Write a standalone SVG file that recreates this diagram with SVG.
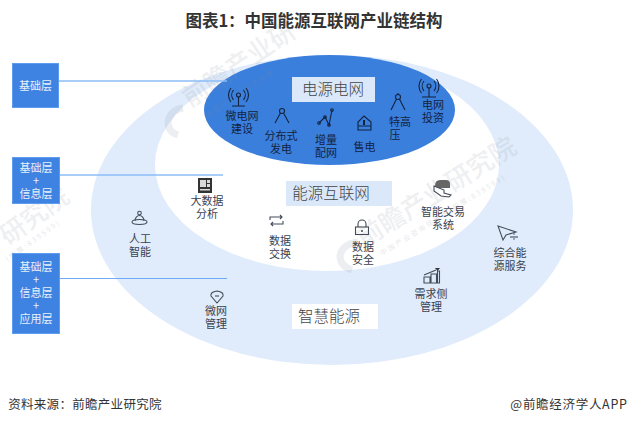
<svg xmlns="http://www.w3.org/2000/svg" width="628" height="425" viewBox="0 0 628 425">
<style>
text{font-family:"Noto Sans CJK SC","Liberation Sans",sans-serif;text-anchor:middle}
.t{font-size:11px;fill:#3a4250}
.d{font-size:11px;fill:#13233f}
.w{font-size:11px;fill:#e8f0fb}
.box{fill:#3f83e2;stroke:#5e9cf0;stroke-width:1}
.big{font-size:15.500px;font-weight:300;fill:#444}
.i{fill:none;stroke:#444c58;stroke-width:1.1}
.k{fill:none;stroke:#13233f;stroke-width:1.1}
.wm{font-size:26px;font-weight:500;fill:#7f8a99;opacity:.13;text-anchor:start}
.ws{font-size:7px;fill:#7f8a99;opacity:.2;letter-spacing:2px;text-anchor:start}
.logo{fill:none;stroke:#7f8a99;stroke-width:7;opacity:.14}
</style>
<rect width="628" height="425" fill="#fff"/>
<text x="314" y="26.500" style="font-size:16.500px;font-weight:700;fill:#333">图表1：中国能源互联网产业链结构</text>
<g id="rings">
<ellipse cx="332" cy="210" rx="241" ry="155" fill="#e0ecfb"/>
<ellipse cx="327" cy="165" rx="172" ry="106" fill="#fff"/>
</g>
<g id="power-grid">
<ellipse cx="329.500" cy="110" rx="125.500" ry="55" fill="#3b7fdc"/>
<rect x="292" y="77" width="83" height="25" fill="#dbe8f9"/>
<text class="big" x="333" y="95">电源电网</text>
</g>
<g id="watermarks">
<path class="logo" d="M183 108Q170 110 168 122Q168 132 178 135"/>
<path class="logo" d="M358 242Q342 244 340 256Q340 266 352 270"/>
<text class="wm" transform="translate(190 108) rotate(-34)">前瞻产业研</text>
<text class="wm" transform="translate(364 248) rotate(-32)">前瞻产业研究院</text>
<text class="wm" transform="translate(8 246) rotate(-36)">研究院</text>
<text class="ws" transform="translate(208 118) rotate(-34)">中国产业咨询领导者</text>
<text class="ws" transform="translate(382 256) rotate(-32)">中国产业咨询领导者(股票:839599)</text>
<text class="ws" transform="translate(8 262) rotate(-36)">(股票:839599)</text>
</g>
<g id="connectors" fill="none">
<path d="M59 81H227" stroke="#8bbcf7" stroke-width="1.600"/>
<path d="M60 175H223" stroke="#8bbcf7" stroke-width="1.600"/>
<path d="M60 278.500H227" stroke="#6eaaf5" stroke-width="1.100"/>
</g>
<g id="layer-1"><rect class="box" x="12.500" y="63.500" width="46" height="44"/><text class="w" x="35.500" y="90">基础层</text></g>
<g id="layer-2"><rect class="box" x="12.500" y="157.500" width="47" height="46"/><text class="w" x="36" y="172">基础层</text><text class="w" x="36" y="185">+</text><text class="w" x="36" y="198">信息层</text></g>
<g id="layer-3"><rect class="box" x="12.500" y="253.500" width="47" height="80"/><text class="w" x="36" y="271">基础层</text><text class="w" x="36" y="284">+</text><text class="w" x="36" y="297">信息层</text><text class="w" x="36" y="310">+</text><text class="w" x="36" y="323">应用层</text></g>
<g id="energy-internet"><rect x="286" y="181" width="106" height="25" fill="#dbe8f9"/><text class="big" x="331" y="199">能源互联网</text></g>
<g id="smart-energy"><rect x="292" y="304" width="86" height="25" fill="#fff"/><text class="big" x="329" y="322">智慧能源</text></g>
<g id="n-micro-build"><circle class="k" cx="238.500" cy="95" r="2"/><path class="k" d="M238.500 97V106M232 106H245M233.500 90a8 8 0 0 0 0 10M243.500 90a8 8 0 0 1 0 10M231 88a11 11 0 0 0 0 14M246 88a11 11 0 0 1 0 14"/><text class="d" x="242" y="120">微电网</text><text class="d" x="242" y="133">建设</text></g>
<g id="n-distributed"><circle class="k" cx="282" cy="111" r="2.500"/><path class="k" d="M280.500 113L275 123M283.500 113L289 123"/><text class="d" x="281" y="140">分布式</text><text class="d" x="281" y="153">发电</text></g>
<g id="n-increment"><path class="k" d="M319 123L325 117L329 125L332 110"/><circle class="k" cx="319" cy="123" r="1.300"/><circle class="k" cx="325" cy="117" r="1.300"/><circle class="k" cx="329" cy="125" r="1.300"/><circle class="k" cx="332" cy="110" r="1.300"/><text class="d" x="326" y="144">增量</text><text class="d" x="326" y="157">配网</text></g>
<g id="n-retail"><path class="k" d="M358 130V122L364 116L371 122V130ZM358 126H371"/><rect x="363" y="120" width="2" height="5" fill="#13233f"/><text class="d" x="364.500" y="151">售电</text></g>
<g id="n-uhv"><circle class="k" cx="398" cy="97" r="2.500"/><path class="k" d="M396.500 99L391 110M399.500 99L405 110M398 93V95"/><text class="d" x="400" y="126">特高</text><text class="d" x="395" y="139">压</text></g>
<g id="n-invest"><circle class="k" cx="429" cy="86" r="2"/><path class="k" d="M429 88V97M422 97H436M424 81a8 8 0 0 0 0 10M434 81a8 8 0 0 1 0 10M421.500 79a11 11 0 0 0 0 14M436.500 79a11 11 0 0 1 0 14"/><text class="d" x="433" y="109">电网</text><text class="d" x="433" y="122">投资</text></g>
<g id="n-bigdata"><rect x="198" y="178" width="14" height="15" fill="#333"/><rect x="200" y="180" width="6" height="7" fill="#d9d9d9"/><rect x="207" y="180" width="3" height="3" fill="#d9d9d9"/><rect x="207" y="184" width="3" height="3" fill="#d9d9d9"/><rect x="200" y="189" width="10" height="1.500" fill="#d9d9d9"/><text class="t" x="207" y="205">大数据</text><text class="t" x="207" y="218">分析</text></g>
<g id="n-ai"><circle class="i" cx="139.500" cy="213" r="1.800"/><path class="i" d="M135 221a4.500 5.500 0 0 1 9 0"/><ellipse class="i" cx="139.500" cy="222" rx="7.500" ry="2.500"/><text class="t" x="140" y="243">人工</text><text class="t" x="140" y="256">智能</text></g>
<g id="n-exchange"><path class="i" d="M270 220V217H282M280 215L282 217L280 219M283 221V224H271M273 222L271 224L273 226"/><text class="t" x="280" y="245">数据</text><text class="t" x="280" y="258">交换</text></g>
<g id="n-security"><rect class="i" x="355.500" y="227" width="13" height="7.500"/><path class="i" d="M358 227V224a4 4 0 0 1 8 0V227"/><circle cx="362" cy="231" r="1" fill="#444c58"/><text class="t" x="363" y="251">数据</text><text class="t" x="363" y="264">安全</text></g>
<g id="n-trade"><path d="M435 186Q435 180 440 180H446Q450 180 450 184V188H436Z" fill="#666"/><path d="M434 186L444 190V193L451 195L449 197L441 196L434 191Z" fill="#fff" stroke="#444c58" stroke-width="1.100"/><text class="t" x="443" y="216">智能交易</text><text class="t" x="443" y="229">系统</text></g>
<g id="n-service"><path class="i" d="M498 226L516 232L506 235L503 240Z"/><path class="i" d="M510 237H518"/><circle cx="514" cy="234" r=".8" fill="#444c58"/><circle cx="514" cy="239" r=".8" fill="#444c58"/><text class="t" x="510" y="257">综合能</text><text class="t" x="510" y="270">源服务</text></g>
<g id="n-demand"><path class="i" d="M424 283V277H430V283ZM431 283V274H436.500V283ZM437.500 283V271H439.500V283ZM424 275L436 270"/><path d="M435 268h5l-2.500 3z" fill="#333"/><text class="t" x="431" y="298">需求侧</text><text class="t" x="431" y="311">管理</text></g>
<g id="n-micro-manage"><path class="i" d="M217 303L211 296Q210 292 217 291Q224 292 223 296Z"/><path class="i" d="M215 296H219"/><text class="t" x="216" y="315">微网</text><text class="t" x="216" y="328">管理</text></g>
<text x="85" y="409" style="font-size:12.500px;fill:#333;letter-spacing:.3px">资料来源：前瞻产业研究院</text>
<text x="569" y="409" style="font-size:12.500px;fill:#333;letter-spacing:.7px">@前瞻经济学人APP</text>
</svg>
